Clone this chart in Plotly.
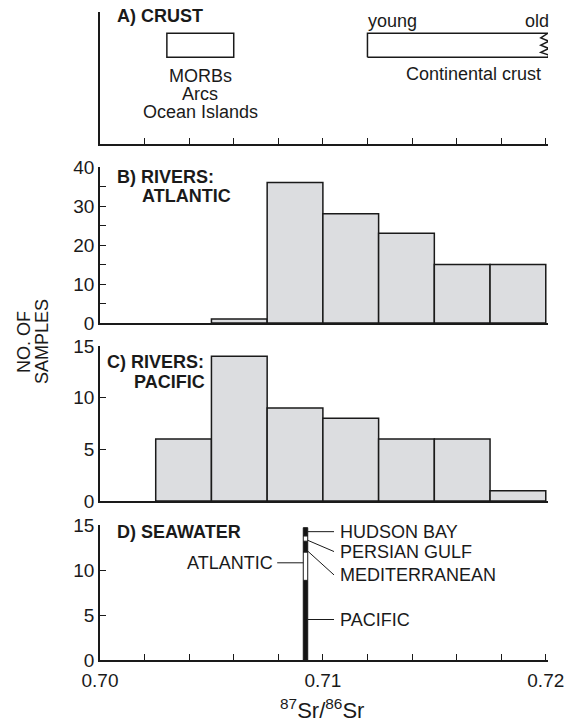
import plotly.graph_objects as go

W, H = 571, 723

# ---------------- data ----------------
bin_edges = [0.7025, 0.705, 0.7075, 0.710, 0.7125, 0.715, 0.7175, 0.720]
atlantic_counts = [0, 1, 36, 28, 23, 15, 15]
pacific_counts = [6, 14, 9, 8, 6, 6, 1]

crust_lo = [0.703, 0.712]
crust_hi = [0.706, 0.720]

seawater_ratio = 0.70922
seawater_names = ["PACIFIC", "ATLANTIC", "MEDITERRANEAN", "PERSIAN GULF", "HUDSON BAY"]
seawater_counts = [8.85, 3.15, 1.2, 0.6, 0.9]
seawater_colors = ["#141414", "#ffffff", "#141414", "#ffffff", "#141414"]

x_ticks = [0.700, 0.702, 0.704, 0.706, 0.708, 0.710, 0.712, 0.714, 0.716, 0.718, 0.720]
x_labels = {0.700: "0.70", 0.710: "0.71", 0.720: "0.72"}

# ---------------- helpers ----------------
def fx(px):
    return px / W

def fy(py):
    return 1 - py / H

INK = "#1a1a1a"
FONT = "Liberation Sans, Arial, Helvetica, sans-serif"
BAR_FILL = "#dcdde0"

xdom = [fx(100), fx(548)]
doms = {
    "A": [fy(144), fy(12)],
    "B": [fy(323), fy(167)],
    "C": [fy(501), fy(346)],
    "D": [fy(660), fy(525)],
}

centers = [(a + b) / 2 for a, b in zip(bin_edges[:-1], bin_edges[1:])]
widths = [b - a for a, b in zip(bin_edges[:-1], bin_edges[1:])]

def nz(vals):
    return [v if v > 0 else None for v in vals]

fig = go.Figure()

fig.add_trace(go.Bar(x=centers, y=nz(atlantic_counts), width=widths, xaxis="x2", yaxis="y2",
                     marker=dict(color=BAR_FILL, line=dict(color=INK, width=1.5)),
                     showlegend=False, hoverinfo="skip"))
fig.add_trace(go.Bar(x=centers, y=nz(pacific_counts), width=widths, xaxis="x3", yaxis="y3",
                     marker=dict(color=BAR_FILL, line=dict(color=INK, width=1.5)),
                     showlegend=False, hoverinfo="skip"))

bar_w = 0.0002
base = 0
for name, cnt, col in zip(seawater_names, seawater_counts, seawater_colors):
    fig.add_trace(go.Bar(x=[seawater_ratio], y=[cnt], base=[base], width=[bar_w],
                         xaxis="x4", yaxis="y4", name=name,
                         marker=dict(color=col, line=dict(color=INK, width=1)),
                         showlegend=False, hoverinfo="skip"))
    base += cnt

shapes = []
# crust boxes (panel A)
box_top, box_bot = 0.839, 0.657
shapes.append(dict(type="rect", xref="x", yref="y", x0=crust_lo[0], x1=crust_hi[0],
                   y0=box_bot, y1=box_top, line=dict(color=INK, width=1.5)))
pxu = 0.02 / 448.0  # data units per pixel
zz = [(0.0, box_top), (-7, box_top - 0.035), (1, box_top - 0.06), (-7, box_top - 0.09),
      (1, box_top - 0.115), (-7, box_top - 0.145), (1, box_top - 0.165), (0.0, box_bot)]
xr = crust_hi[1] + 2 * pxu
path = f"M {crust_lo[1]},{box_bot} L {crust_lo[1]},{box_top} L {xr},{box_top}"
for dx, yy in zz[1:]:
    path += f" L {xr + dx * pxu},{yy}"
path += f" L {crust_lo[1]},{box_bot}"
shapes.append(dict(type="path", xref="x", yref="y", path=path, line=dict(color=INK, width=1.5)))

# leader lines (panel D)
bar_r = seawater_ratio + bar_w / 2
bar_l = seawater_ratio - bar_w / 2
lead_end = 0.7105
text_x = 0.7107
leaders = {
    "HUDSON BAY": (14.26, 14.26),
    "PERSIAN GULF": (13.3, 12.05),
    "MEDITERRANEAN": (12.1, 9.45),
    "PACIFIC": (4.5, 4.5),
}
for nm, (y0, y1) in leaders.items():
    shapes.append(dict(type="line", xref="x4", yref="y4", x0=bar_r, x1=lead_end, y0=y0, y1=y1,
                       line=dict(color=INK, width=1)))
shapes.append(dict(type="line", xref="x4", yref="y4", x0=0.70795, x1=bar_l, y0=10.8, y1=10.8,
                   line=dict(color=INK, width=1)))

ann = []

def txt(t, x, y, size=18, xanchor="left", bold=False, xref="paper", yref="paper", **kw):
    ann.append(dict(text=f"<b>{t}</b>" if bold else t, x=x, y=y, xref=xref, yref=yref,
                    xanchor=xanchor, yanchor="middle", showarrow=False,
                    font=dict(family=FONT, size=size, color=INK), **kw))

# panel titles
txt("A) CRUST", fx(115), fy(15.5), bold=True)
txt("B) RIVERS:", fx(115), fy(177), bold=True)
txt("ATLANTIC", fx(140), fy(196.5), bold=True)
txt("C) RIVERS:", fx(105), fy(362), bold=True)
txt("PACIFIC", fx(132), fy(381.5), bold=True)
txt("D) SEAWATER", fx(115), fy(532), bold=True)

# panel A labels
txt("young", fx(366), fy(20.5))
txt("old", fx(551), fy(20.5), xanchor="right")
txt("MORBs", fx(200), fy(76), xanchor="center")
txt("Arcs", fx(200), fy(94), xanchor="center")
txt("Ocean Islands", fx(200), fy(112), xanchor="center")
txt("Continental crust", fx(473), fy(74), xanchor="center")

# panel D labels
for nm, (y0, y1) in leaders.items():
    txt(nm, text_x, y1, xref="x4", yref="y4")
txt("ATLANTIC", 0.70785, 10.8, xanchor="right", xref="x4", yref="y4")

# axis titles
for t, xc in (("NO. OF", 24), ("SAMPLES", 42)):
    ann.append(dict(text=t, x=fx(xc), y=fy(342), xref="paper", yref="paper",
                    xanchor="center", yanchor="middle", showarrow=False, textangle=-90,
                    font=dict(family=FONT, size=18, color=INK)))
ann.append(dict(text="<sup>87</sup>Sr/<sup>86</sup>Sr", x=fx(322), y=fy(709), xref="paper", yref="paper",
                xanchor="center", yanchor="middle", showarrow=False,
                font=dict(family=FONT, size=22, color=INK)))

axis_common = dict(showline=True, linecolor=INK, linewidth=1.5, showgrid=False, zeroline=False,
                   fixedrange=True, mirror=False, automargin=False)
xcommon = dict(axis_common, range=[0.700, 0.7201], domain=xdom)

tick_font = dict(family=FONT, size=19, color=INK)

layout = dict(
    width=W, height=H, margin=dict(l=0, r=0, t=0, b=0, autoexpand=False),
    paper_bgcolor="white", plot_bgcolor="rgba(0,0,0,0)",
    barmode="overlay", showlegend=False,
    shapes=shapes, annotations=ann,
    xaxis=dict(xcommon, anchor="y", ticks="inside", tickvals=x_ticks,
               ticktext=["" for _ in x_ticks], ticklen=6, tickwidth=1.3, tickcolor=INK),
    xaxis2=dict(xcommon, anchor="y2", ticks="", showticklabels=False),
    xaxis3=dict(xcommon, anchor="y3", ticks="", showticklabels=False),
    xaxis4=dict(xcommon, anchor="y4", ticks="inside", tickvals=x_ticks,
                ticktext=[x_labels.get(round(v, 3), "") for v in x_ticks],
                ticklen=6, tickwidth=1.3, tickcolor=INK, tickfont=tick_font,
                ticklabelstandoff=2),
    yaxis=dict(axis_common, domain=doms["A"], anchor="x", range=[0, 1], ticks="",
               showticklabels=False),
    yaxis2=dict(axis_common, domain=doms["B"], anchor="x2", range=[0, 40],
                tickvals=[0, 5, 10, 15, 20, 25, 30, 35, 40],
                ticktext=["0", "", "10", "", "20", "", "30", "", "40"],
                ticks="inside", ticklen=6, tickwidth=1.3, tickcolor=INK, tickfont=tick_font),
    yaxis3=dict(axis_common, domain=doms["C"], anchor="x3", range=[0, 15],
                tickvals=[0, 5, 10, 15], ticktext=["0", "5", "10", "15"],
                ticks="inside", ticklen=6, tickwidth=1.3, tickcolor=INK, tickfont=tick_font),
    yaxis4=dict(axis_common, domain=doms["D"], anchor="x4", range=[0, 15],
                tickvals=[0, 5, 10, 15], ticktext=["0", "5", "10", "15"],
                ticks="inside", ticklen=6, tickwidth=1.3, tickcolor=INK, tickfont=tick_font),
)
fig.update_layout(**layout)

fig.write_html("out.html")
